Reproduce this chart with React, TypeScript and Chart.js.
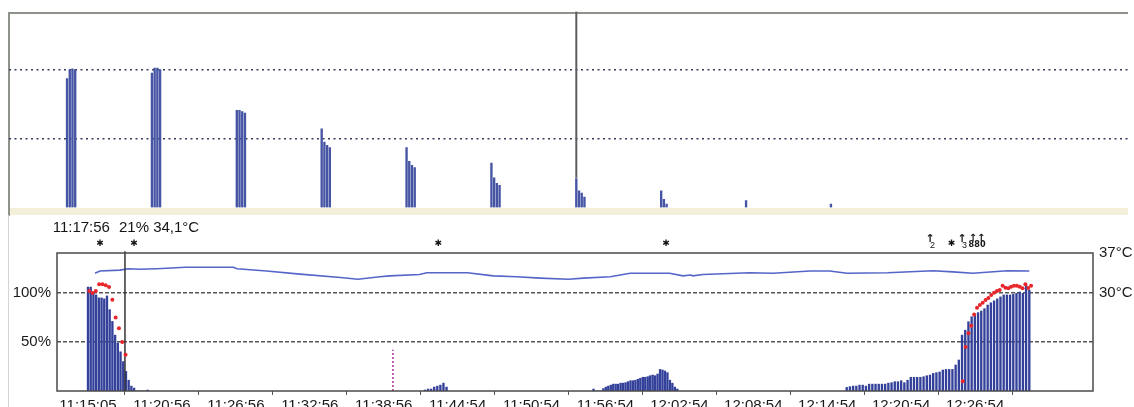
import React, { useEffect, useRef } from "react";
import { Chart, registerables } from "chart.js";
Chart.register(...registerables);

const FONT = '"Liberation Sans", Arial, Helvetica, sans-serif';

// ---------------- top panel ----------------
// heights of the bars in each burst (units: dotted line 1 / dotted line 2)
const topClusterHeights: number[][] = [
  [1.87, 2.0, 2.01, 2.0],
  [1.95, 2.02, 2.02, 2.0],
  [1.41, 1.41, 1.39, 1.37],
  [1.14, 0.95, 0.9, 0.87],
  [0.87, 0.67, 0.61, 0.58],
  [0.645, 0.43, 0.35, 0.32],
  [0.42, 0.24, 0.21, 0.15],
  [0.24, 0.12, 0.05],
  [0.1],
  [0.05],
];
const topBarSpacing = 0.032;
const topGridValues = [1, 2];
const topCursorCluster = 6;
const topCursorFrom = 0.43;

// ---------------- bottom panel ----------------
const xTickLabels = [
  "11:15:05", "11:20:56", "11:26:56", "11:32:56", "11:38:56", "11:44:54", "11:50:54",
  "11:56:54", "12:02:54", "12:08:54", "12:14:54", "12:20:54", "12:26:54",
];
const tickEveryMinutes = 6;

// bars (% values), minutes after 11:15:05
const barsAStart = 0, barsAStep = 0.22;
const barsA = [106, 106, 101, 98, 95, 95, 94, 97, 83, 71, 57, 49, 40, 30, 20, 11, 5, 3, 0, 0, 0, 0, 1];
const barsBStart = 27.35, barsBStep = 0.25;
const barsB = [1, 2, 2, 4, 5, 6, 8, 4];
const barsCStart = 41.03, barsCStep = 0.2;
const barsC = [2, 0, 0, 0, 2.5, 4, 5, 6, 7, 7, 7, 8, 8, 8.5, 9.5, 10.5, 10.5, 11, 12, 13, 14, 14, 14.6, 15.6, 16.3, 15.6, 17.3, 22, 21.4, 20.4, 18.7, 11, 8, 4, 2];
const barsDStart = 61.58, barsDStep = 0.26;
const barsD = [3.7, 4.4, 5, 5, 6, 6, 5, 7, 7, 7, 7, 7, 7, 8, 8.5, 9.5, 9.5, 10.5, 8.5, 11, 14, 14, 14, 14, 14.6, 15.6, 16.3, 18, 18.7, 19.4, 21.4, 22, 22, 22, 26.5,
  31.6, 57, 62, 70.7, 75.8, 78, 80, 81.6, 84, 87.7, 90, 92, 94, 96, 98, 98, 98, 98.6, 99.7, 101, 99.7, 108, 103];

// red dots (%)
const redAStart = 0.1, redAStep = 0.268;
const redA = [102, 100, 102, 109, 109, 108, 106, 93, 75, 64, 50, 37];
const redDStart = 71.0, redDStep = 0.231;
const redD = [10, 45, 59, 66.6, 78, 85, 87.7, 90, 92.8, 95, 98, 100.3, 102, 103, 107.5, 105.4, 104.8, 106.4, 107.5, 107.5, 106.4, 104.8, 108.8, 105, 107.5];

// temperature (°C)
const tempMinutes = [0.57, 0.97, 2.6, 3.25, 4.2, 5.6, 7.9, 11.8, 12.1, 14.5, 17.2, 20.5, 21.9, 23.7, 24.5, 26.9, 27.5, 30.8, 32.9, 34.8,
  36.7, 39.0, 40.2, 42.4, 44.0, 47.2, 48.3, 48.9, 49.1, 49.9, 53.7, 55.6, 58.6, 60.2, 61.6, 64.9, 68.6, 70.2, 71.8, 74.6, 76.4];
const tempValues = [33.45, 33.85, 34.0, 34.25, 34.15, 34.25, 34.5, 34.5, 34.25, 33.85, 33.3, 32.7, 32.4, 32.85, 33.0, 33.25, 33.55, 33.55, 33.0, 32.85,
  32.6, 32.4, 32.6, 32.85, 33.45, 33.45, 33.0, 33.15, 33.0, 33.25, 33.55, 33.45, 33.85, 33.85, 33.45, 33.55, 33.9, 33.7, 33.45, 33.9, 33.85];

// markers
const magentaMinute = 24.75, magentaValue = 42;
const cursorMinute = 3.0;
const cursorTimeLabel = "11:17:56";
const cursorValueLabel = "21% 34,1°C";
const starMinutes = [0.97, 3.73, 28.43, 46.92, 70.09];
const arrowMinutes = [68.34, 70.94];
const arrowSubs = ["2", "3"];
const groupMinute = 72.16;
const groupLabel = "880";

const pctMax = 140.8;
const pctTicks = [50, 100];
const tempMin = 12.85, tempMax = 37;
const tempTicks = [30, 37];
const xMin = -2.516, xMax = 81.57;

function seg(start: number, step: number, values: number[]) {
  return values.map((v, i) => ({ x: start + i * step, y: v }));
}

const bottomDecor = {
  id: "bottomDecor",
  afterDatasetsDraw(chart: any) {
    const { ctx, chartArea: a, scales } = chart;
    const x = scales.x;
    ctx.save();
    ctx.strokeStyle = "#4a4a4a";
    ctx.lineWidth = 1.5;
    ctx.strokeRect(a.left, a.top, a.right - a.left, a.bottom - a.top);

    const cx = x.getPixelForValue(cursorMinute);
    ctx.fillStyle = "#151515";
    ctx.font = `15px ${FONT}`;
    ctx.textBaseline = "alphabetic";
    ctx.textAlign = "right";
    ctx.fillText(cursorTimeLabel, cx - 15, 16);
    ctx.textAlign = "left";
    ctx.fillText(cursorValueLabel, cx - 6, 16);

    ctx.textAlign = "center";
    ctx.textBaseline = "middle";
    ctx.font = `9px "DejaVu Sans", sans-serif`;
    starMinutes.forEach((m) => ctx.fillText("✱", x.getPixelForValue(m), 27.3));

    arrowMinutes.forEach((m, i) => {
      const px = x.getPixelForValue(m);
      ctx.font = `bold 11px "DejaVu Sans", sans-serif`;
      ctx.fillText("↑", px, 23);
      ctx.font = `9px ${FONT}`;
      ctx.fillText(arrowSubs[i], px + 2.5, 30);
    });
    const gx = x.getPixelForValue(groupMinute);
    ctx.font = `bold 10px "DejaVu Sans", sans-serif`;
    ctx.fillText("↑↑", gx, 22);
    ctx.font = `bold 9px "DejaVu Sans Condensed", sans-serif`;
    ctx.fillText(groupLabel, gx, 29);
    ctx.restore();
  },
};

function topConfig(): any {
  const topBars = topClusterHeights.flatMap((c, k) => c.map((v, j) => ({ x: k + j * topBarSpacing, y: v })));
  return {
    type: "bar",
    data: {
      datasets: [
        { type: "bar", data: topBars, backgroundColor: "#4654a4", barThickness: 1.7, order: 2 },
        {
          type: "line",
          data: [{ x: topCursorCluster, y: topCursorFrom }, { x: topCursorCluster, y: 2.84 }],
          borderColor: "#5d5d5d", borderWidth: 2, pointRadius: 0, clip: false, order: 1,
        },
      ],
    },
    options: {
      animation: false,
      responsive: false,
      layout: { padding: { left: 9, right: 6, top: 13, bottom: 8.5 } },
      plugins: { legend: { display: false }, tooltip: { enabled: false } },
      scales: {
        x: { type: "linear", min: -0.684, max: 12.5, display: false, offset: false },
        y: {
          min: 0, max: 2.82, display: true,
          afterFit: (s: any) => { s.width = 0; },
          afterBuildTicks: (s: any) => { s.ticks = topGridValues.map((v) => ({ value: v })); },
          ticks: { display: false },
          grid: { color: "#343a58", lineWidth: 1.6, drawTicks: false },
          border: { display: false, dash: [2, 3.5] },
        },
      },
    },
  };
}

function bottomConfig(): any {
  const bars = [
    ...seg(barsAStart, barsAStep, barsA),
    ...seg(barsBStart, barsBStep, barsB),
    ...seg(barsCStart, barsCStep, barsC),
    ...seg(barsDStart, barsDStep, barsD),
  ];
  const red = [...seg(redAStart, redAStep, redA), ...seg(redDStart, redDStep, redD)];
  const temp = tempMinutes.map((m, i) => ({ x: m, y: tempValues[i] }));
  return {
    type: "bar",
    data: {
      datasets: [
        { type: "bar", data: bars, yAxisID: "y", backgroundColor: "#34419a", barThickness: 1.7, order: 5 },
        { type: "line", data: temp, yAxisID: "yT", borderColor: "#5565c8", borderWidth: 1.6, pointRadius: 0, tension: 0, order: 4 },
        {
          type: "line", data: [{ x: magentaMinute, y: 0 }, { x: magentaMinute, y: magentaValue }], yAxisID: "y",
          borderColor: "#b0309a", borderWidth: 1.5, borderDash: [2, 2], pointRadius: 0, order: 3,
        },
        {
          type: "line", data: [{ x: cursorMinute, y: 0 }, { x: cursorMinute, y: 142.5 }], yAxisID: "y",
          borderColor: "#333", borderWidth: 1.5, pointRadius: 0, clip: false, order: 2,
        },
        {
          type: "line", data: red, yAxisID: "y", showLine: false, pointRadius: 2,
          pointBackgroundColor: "#e8262b", pointBorderWidth: 0, pointBorderColor: "#e8262b", order: 1,
        },
      ],
    },
    options: {
      animation: false,
      responsive: false,
      layout: { padding: { top: 37, left: 0, right: 0, bottom: 0 } },
      plugins: { legend: { display: false }, tooltip: { enabled: false } },
      scales: {
        x: {
          type: "linear", min: xMin, max: xMax, offset: false,
          afterFit: (s: any) => { s.height = 16; },
          afterBuildTicks: (s: any) => { s.ticks = xTickLabels.map((_, i) => ({ value: i * tickEveryMinutes })); },
          ticks: {
            callback: (_v: any, i: number) => xTickLabels[i],
            font: { family: FONT, size: 15 }, color: "#1a1a1a", maxRotation: 0, autoSkip: false, padding: 2,
          },
          grid: { drawOnChartArea: false, drawTicks: true, tickLength: 4, color: "#555" },
          border: { display: false },
        },
        y: {
          position: "left", min: 0, max: pctMax,
          afterFit: (s: any) => { s.width = 57; },
          afterBuildTicks: (s: any) => { s.ticks = pctTicks.map((v) => ({ value: v })); },
          ticks: { callback: (v: any) => `${v}%`, padding: 6, font: { family: FONT, size: 15 }, color: "#1a1a1a" },
          grid: { color: "#555", lineWidth: 1.5, drawTicks: false },
          border: { display: false, dash: [4, 2] },
        },
        yT: {
          position: "right", min: tempMin, max: tempMax,
          afterFit: (s: any) => { s.width = 41; },
          afterBuildTicks: (s: any) => { s.ticks = tempTicks.map((v) => ({ value: v })); },
          ticks: { callback: (v: any) => `${v}°C`, padding: 6, font: { family: FONT, size: 15 }, color: "#1a1a1a" },
          grid: { display: false, drawTicks: false },
          border: { display: false },
        },
      },
    },
    plugins: [bottomDecor],
  };
}

export default function App() {
  const topRef = useRef<HTMLCanvasElement>(null);
  const botRef = useRef<HTMLCanvasElement>(null);
  useEffect(() => {
    const top = new Chart(topRef.current as HTMLCanvasElement, topConfig());
    const bot = new Chart(botRef.current as HTMLCanvasElement, bottomConfig());
    return () => {
      top.destroy();
      bot.destroy();
    };
  }, []);
  return (
    <div style={{ position: "absolute", left: 0, top: 0, width: 1134, height: 407, overflow: "hidden", background: "#fff" }}>
      <div style={{ position: "absolute", left: 7.5, top: 11.5, width: 1120.5, height: 2, background: "#8d928a" }} />
      <div style={{ position: "absolute", left: 7.5, top: 11.5, width: 2, height: 204, background: "#8d928a" }} />
      <div style={{ position: "absolute", left: 9.5, top: 208, width: 1118.5, height: 7, background: "#f3efd8" }} />
      <div style={{ position: "absolute", left: 8, top: 215, width: 1, height: 192, background: "#d4d4d4" }} />
      <canvas ref={topRef} width={1134} height={216} style={{ position: "absolute", left: 0, top: 0, width: 1134, height: 216 }} />
      <canvas ref={botRef} width={1134} height={191} style={{ position: "absolute", left: 0, top: 216, width: 1134, height: 191 }} />
    </div>
  );
}
